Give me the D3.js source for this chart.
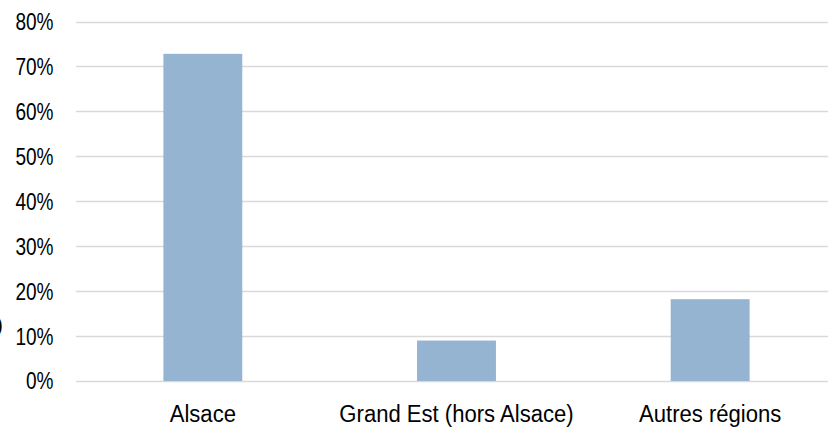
<!DOCTYPE html>
<html>
<head>
<meta charset="utf-8">
<script src="https://cdn.jsdelivr.net/npm/d3@7"></script>
<style>
  html, body { margin: 0; padding: 0; background: #fff; }
  svg { display: block; }
  text { font-family: "Liberation Sans", Arial, sans-serif; fill: #000; }
</style>
</head>
<body>
<svg id="chart" width="828" height="428"></svg>
<script>
// Répartition par origine géographique
const categories = ["Alsace", "Grand Est (hors Alsace)", "Autres régions"];
const shares = [72.8, 9.0, 18.2];
const yTicks = [0, 10, 20, 30, 40, 50, 60, 70, 80];
const yTickLabels = ["0%", "10%", "20%", "30%", "40%", "50%", "60%", "70%", "80%"];

const svg = d3.select("#chart");
const plot = { left: 76, right: 837, top: 21.5, bottom: 381 };

const x = d3.scaleBand()
  .domain(categories)
  .range([plot.left, plot.right])
  .paddingInner(0.689)
  .paddingOuter(0.3445);

const y = d3.scaleLinear()
  .domain([0, 80])
  .range([plot.bottom, plot.top]);

// horizontal gridlines
svg.append("g")
  .selectAll("line")
  .data(yTicks)
  .join("line")
  .attr("x1", plot.left)
  .attr("x2", plot.right)
  .attr("y1", d => Math.round(y(d)) + 0.5)
  .attr("y2", d => Math.round(y(d)) + 0.5)
  .attr("stroke", "#d9d9d9")
  .attr("stroke-width", 1.3);

// y tick labels (condensed face, right-aligned next to the grid)
svg.append("g")
  .selectAll("text")
  .data(yTicks)
  .join("text")
  .attr("transform", d => `translate(53.5,${y(d)}) scale(0.81,1)`)
  .attr("dy", "0.36em")
  .attr("text-anchor", "end")
  .attr("font-size", 23.5)
  .text((d, i) => yTickLabels[i]);

// bars
svg.append("g")
  .selectAll("rect")
  .data(categories)
  .join("rect")
  .attr("x", d => x(d))
  .attr("width", x.bandwidth())
  .attr("y", (d, i) => y(shares[i]))
  .attr("height", (d, i) => y(0) - y(shares[i]))
  .attr("fill", "#94b4d2");

// category labels
svg.append("g")
  .selectAll("text")
  .data(categories)
  .join("text")
  .attr("transform", d => `translate(${x(d) + x.bandwidth() / 2},421.5) scale(0.96,1)`)
  .attr("text-anchor", "middle")
  .attr("font-size", 23)
  .text(d => d);

// clipped fragment of the axis caption at the left edge
svg.append("text")
  .attr("x", 3)
  .attr("y", 332)
  .attr("text-anchor", "end")
  .attr("font-size", 22.5)
  .text(")");
</script>
</body>
</html>
